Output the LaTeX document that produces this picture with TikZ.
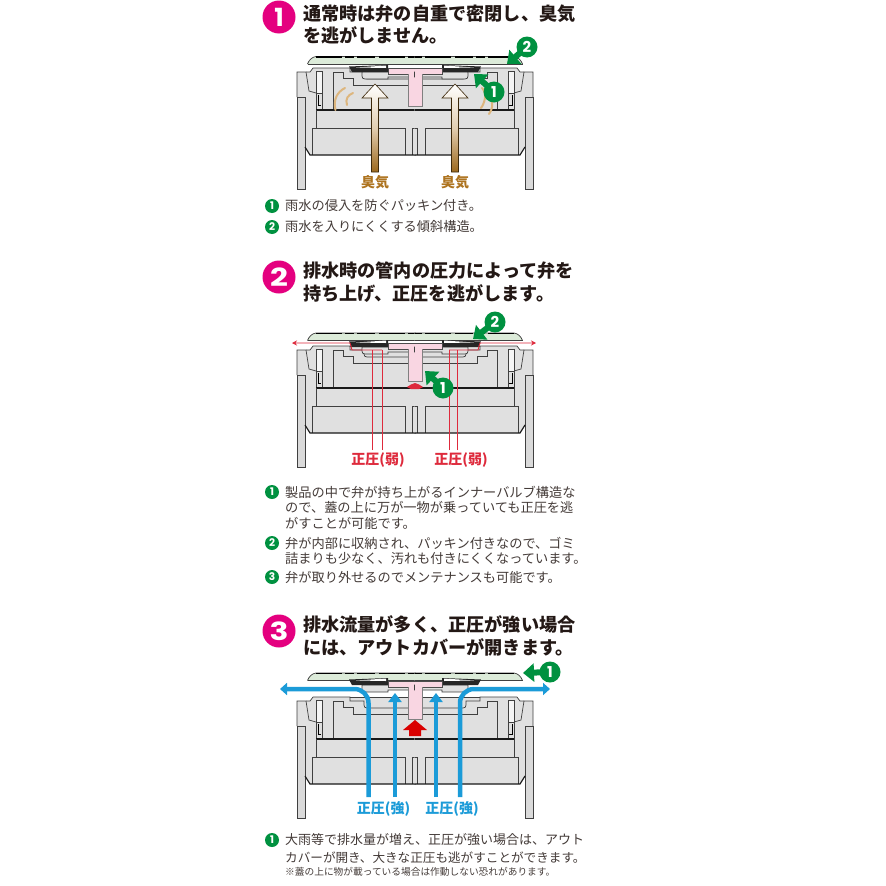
\documentclass[tikz,border=0pt]{standalone}
\usepackage{fontspec}
\usepackage{graphicx}
\setmainfont{Noto Sans CJK JP}
\newfontfamily\numfont{Poppins}
\usetikzlibrary{arrows.meta}
\definecolor{bodygray}{HTML}{E0E0E0}
\definecolor{stripgray}{HTML}{DADADA}
\definecolor{covergreen}{HTML}{DCEBD9}
\definecolor{valvepink}{HTML}{F9D6E2}
\definecolor{magentabadge}{HTML}{E4007F}
\definecolor{greenbadge}{HTML}{009140}
\definecolor{inkc}{HTML}{231815}
\definecolor{odorbrown}{HTML}{AE7420}
\definecolor{posred}{HTML}{DE2A3C}
\definecolor{posblue}{HTML}{1B9BD8}
\definecolor{swirl}{HTML}{DDB67E}
\tikzset{
 ln/.style={draw=black!75,line width=0.7pt},
 lnb/.style={draw=black!90,line width=1.15pt},
 titletext/.style={anchor=west,inner sep=0pt,font=\fontsize{18.15}{18}\selectfont\bfseries,text=inkc},
 bodytext/.style={anchor=west,inner sep=0pt,font=\fontsize{13.2}{13}\selectfont,text=inkc!85},
 bodytexta/.style={bodytext,font=\fontsize{13}{13}\selectfont},
 bodytextb/.style={bodytext,font=\fontsize{12.6}{13}\selectfont},
 tinytext/.style={anchor=west,inner sep=0pt,font=\fontsize{9.7}{10}\selectfont,text=inkc!85},
 bigbadge/.style={circle,fill=magentabadge,text=white,minimum size=33pt,inner sep=0pt,font=\numfont\fontsize{25}{25}\selectfont\bfseries},
 smallbadge/.style={circle,fill=greenbadge,text=white,minimum size=14pt,inner sep=0pt,font=\numfont\fontsize{10.5}{10.5}\selectfont\bfseries},
 callbadge/.style={circle,fill=greenbadge,text=white,minimum size=21pt,inner sep=0pt,font=\numfont\fontsize{15}{15}\selectfont\bfseries},
 callarrow/.style={draw=greenbadge,line width=6pt,shorten <=-1.5pt,-{Triangle[length=11pt,width=18pt]}},
 odorlabel/.style={inner sep=0pt,font=\fontsize{14}{14}\selectfont\bfseries,text=odorbrown},
 redlabel/.style={inner sep=0pt,font=\fontsize{14}{14}\selectfont\bfseries,text=posred},
 bluelabel/.style={inner sep=0pt,font=\fontsize{14}{14}\selectfont\bfseries,text=posblue},
 redline/.style={draw=posred,line width=0.9pt},
 redtip/.style={redline,-{Stealth[length=5pt,width=5pt]}},
 bluebend/.style={draw=posblue,line width=4.5pt,rounded corners=14pt,-{Triangle[length=7pt,width=12pt]}},
 bluestraight/.style={draw=posblue,line width=4.5pt,-{Triangle[length=9pt,width=13pt]}},
 swirlline/.style={draw=swirl,line width=2pt,line cap=round},
}
% half of the body (left side, coordinates of the first panel)
\newcommand{\halfbody}{%
 \fill[bodygray] (297,72)--(310,72)--(313,68)--(415.5,68)--(415.5,155)--(310,155)--(305,147)--(305,97)--(297,97)--cycle;
 \draw[ln] (297,97)--(297,72)--(306,72)--(309,91)--(316,93);
 \draw[ln] (306,72)--(310,72)--(313,68)--(350,68)--(350,72)--(364,72)--(364,76) .. controls (364,78) and (365,79) .. (367,79)--(408,79);
 \draw[ln] (350,68)--(408,68);
 \draw[ln,fill=stripgray] (297,97) rectangle (305,189);
 \draw[ln,fill=black!4] (316,71) rectangle (322,93);
 \draw[ln,fill=black!12] (316,93) rectangle (322,110);
 \draw[draw=black,line width=1pt] (318,95)--(318,105)--(321,105);
 \draw[ln] (333,110)--(333,72)--(343,72)--(343,78)--(353,78)--(353,85)--(408,85);
 \draw[lnb] (316,110)--(415.5,110);
 \draw[ln] (316,110)--(316,128);
 \draw[ln] (312,155)--(312,128)--(405,128)--(405,155);
 \draw[ln] (412.5,155)--(412.5,128)--(415.5,128);
 \draw[lnb] (305,147)--(310,155)--(415.5,155);
}
% half of the lid
\newcommand{\halfcover}{%
 \fill[covergreen] (307.5,64) .. controls (309,60) and (312,57) .. (316,56.5)--(415.5,56.5)--(415.5,64)--cycle;
 \draw[ln] (307.5,64)--(415.5,64);
 \draw[ln] (307.5,64) .. controls (309,60) and (312,57) .. (316,56.5)--(415.5,56.5);
 \draw[draw=black,line width=1.4pt,dash pattern=on 26pt off 3pt on 9pt off 3pt on 18pt off 4pt] (316,57)--(415.5,57);
}
% half of the valve
\newcommand{\halfvalve}{%
 \draw[ln,fill=bodygray] (362,72)--(362,76) .. controls (362,78) and (363,79) .. (365,79)--(388,79)--(388,77)--(415.5,77)--(415.5,72)--cycle;
 \fill[black!85] (349,66.5)--(388,65)--(388,72)--(352,72)--cycle;
 \fill[white] (356,67.5)--(386,65.5)--(386,68)--cycle;
 \fill[valvepink] (388,68) rectangle (415.5,74);
 \draw[black!70,line width=0.5pt] (388,68)--(415.5,68) (388,68)--(388,74)--(408,74);
 \fill[valvepink] (408,73) rectangle (415.5,106);
 \draw[black!50,line width=0.5pt] (408,74)--(408,106)--(415.5,106);
}
% odour arrow (polygon in coordinates of the first panel)
\newcommand{\odorarrow}[1]{%
 \path[draw=black!65!odorbrown,line width=0.6pt,top color=white,bottom color=odorbrown!90!black,middle color=odorbrown!35!white]
 (#1,84)--(#1+13,98)--(#1+3.5,98)--(#1+3.5,172)--(#1-3.5,172)--(#1-3.5,98)--(#1-13,98)--cycle;
}
\newcommand{\wholepart}[2]{%
 \begin{scope}[shift={(0,#2)}]#1\end{scope}
 \begin{scope}[shift={(830,#2)},xscale=-1]#1\end{scope}
}
\begin{document}
\begin{tikzpicture}[x=1pt,y=-1pt]
\useasboundingbox[fill=white] (0,0) rectangle (886,886);

% ---- panel 1
\wholepart{\halfbody}{0}
\wholepart{\halfcover}{0}
\wholepart{\halfvalve}{0}
\draw[swirlline] (335.5,110) .. controls (333,100) and (337,92) .. (345,88);
\draw[swirlline] (347,105) .. controls (345,99) and (348,95) .. (353,93);
\draw[swirlline] (482,88) .. controls (488,94) and (484,104) .. (481,108);
\draw[swirlline] (490,98) .. controls (494,104) and (492,110) .. (489,114);
\odorarrow{375}
\odorarrow{455}
\node[bigbadge] (t1) at (279,17) {1};
\node[titletext] (t1a) at (303,14) {通常時は弁の自重で密閉し、臭気};
\node[titletext] (t1b) at (303,35) {を逃がしません。};
\node[callbadge] (c12) at (527,47) {2};
\coordinate (c12t) at (507,64);
\draw[callarrow] (c12)--(c12t);
\node[callbadge] (c11) at (494,92) {1};
\coordinate (c11t) at (474,74);
\draw[callarrow] (c11)--(c11t);
\node[odorlabel] (o1) at (375,182) {臭気};
\node[odorlabel] (o2) at (455,182) {臭気};
\node[smallbadge] (s11) at (272,206) {1};
\node[bodytext] (b11) at (285,206) {雨水の侵入を防ぐパッキン付き。};
\node[smallbadge] (s12) at (272,227) {2};
\node[bodytext] (b12) at (285,227) {雨水を入りにくくする傾斜構造。};

% ---- panel 2
\wholepart{\halfbody}{278}
\wholepart{\halfcover}{276.5}
\wholepart{\halfvalve}{275}
\node[bigbadge] (t2) at (279,277) {\scalebox{1.25}[1]{2}};
\node[titletext] (t2a) at (303,271) {排水時の管内の圧力によって弁を};
\node[titletext] (t2b) at (303,294) {持ち上げ、正圧を逃がします。};
\node[redlabel] (r1) at (378,460) {正圧(弱)};
\node[redlabel] (r2) at (461,460) {正圧(弱)};
\coordinate (ra) at (372,450); \coordinate (rat) at (372,350);
\coordinate (rb) at (382,450); \coordinate (rbt) at (382,350);
\coordinate (rc) at (449,450); \coordinate (rct) at (449,350);
\coordinate (rd) at (457,450); \coordinate (rdt) at (457,350);
\coordinate (rl) at (292,343); \coordinate (rr) at (536,343);
\draw[redline] (ra)--(rat);
\draw[redline] (rb)--(rbt);
\draw[redline] (rc)--(rct);
\draw[redline] (rd)--(rdt);
\draw[redtip] (rbt)--(352,350)--(350,343)--(rl);
\draw[redtip] (rct)--(478,350)--(480,343)--(rr);
\fill[posred] (407,387)--(411,384.5)--(415,383)--(419,384.5)--(423,387)--(419,389)--(411,389)--cycle;
\node[callbadge] (c22) at (495,322) {2};
\coordinate (c22t) at (473,339);
\draw[callarrow] (c22)--(c22t);
\node[callbadge] (c21) at (443,388) {1};
\coordinate (c21t) at (425,371);
\draw[callarrow] (c21)--(c21t);
\node[smallbadge] (s21) at (272,492) {1};
\node[bodytext] (b21a) at (285,492) {製品の中で弁が持ち上がるインナーバルブ構造な};
\node[bodytext] (b21b) at (285,507.5) {ので、蓋の上に万が一物が乗っていても正圧を逃};
\node[bodytext] (b21c) at (285,523) {がすことが可能です。};
\node[smallbadge] (s22) at (272,543) {2};
\node[bodytext] (b22a) at (285,543) {弁が内部に収納され、パッキン付きなので、ゴミ};
\node[bodytext] (b22b) at (285,558.5) {詰まりも少なく、汚れも付きにくくなっています。};
\node[smallbadge] (s23) at (272,577) {3};
\node[bodytext] (b23) at (285,577) {弁が取り外せるのでメンテナンスも可能です。};

% ---- panel 3
\wholepart{\halfbody}{629}
\wholepart{\halfcover}{616.5}
\wholepart{\halfvalve}{613}
\node[bigbadge] (t3) at (279,631) {\scalebox{1.25}[1]{3}};
\node[titletext] (t3a) at (303,624) {排水流量が多く、正圧が強い場合};
\node[titletext] (t3b) at (303,647) {には、アウトカバーが開きます。};
\node[bluelabel] (u1) at (383.5,809) {正圧(強)};
\node[bluelabel] (u2) at (452,809) {正圧(強)};
\coordinate (ua) at (368.5,797); \coordinate (ual) at (280,689);
\coordinate (ub) at (395,797); \coordinate (ubt) at (395,693);
\coordinate (uc) at (436,797); \coordinate (uct) at (436,693);
\coordinate (ud) at (460,797); \coordinate (udr) at (550,689);
\draw[bluebend] (ua)--(368.5,689)--(ual);
\draw[bluestraight] (ub)--(ubt);
\draw[bluestraight] (uc)--(uct);
\draw[bluebend] (ud)--(460,689)--(udr);
\fill[red!85!black] (415,720)--(427,730)--(421,730)--(421,736)--(409,736)--(409,730)--(403,730)--cycle;
\node[callbadge] (c31) at (550,672) {1};
\coordinate (c31t) at (523,673);
\draw[callarrow] (c31)--(c31t);
\node[smallbadge] (s31) at (272,840) {1};
\node[bodytexta] (b31a) at (285,840) {大雨等で排水量が増え、正圧が強い場合は、アウト};
\node[bodytextb] (b31b) at (285,858) {カバーが開き、大きな正圧も逃がすことができます。};
\node[tinytext] (b31c) at (285,872) {※蓋の上に物が載っている場合は作動しない恐れがあります。};
\end{tikzpicture}
\end{document}
